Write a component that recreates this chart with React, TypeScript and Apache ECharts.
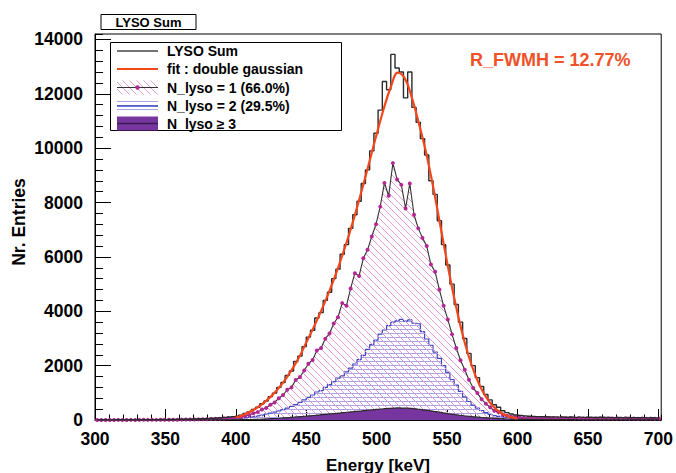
import React, { useEffect, useRef } from 'react';
import * as echarts from 'echarts';

// Histogram binning (keV)
const BIN_START = 300;
const BIN_WIDTH = 3;

// LYSO Sum (black step histogram), 134 bins of 3 keV from 300 to 702 keV
const sumCounts = [
  4, 2, 6, 3, 5, 8, 6, 7, 10, 6,
  9, 12, 10, 13, 12, 16, 15, 18, 20, 24,
  28, 30, 35, 40, 45, 50, 58, 65, 75, 85,
  95, 110, 125, 140, 180, 240, 300, 390, 470, 600,
  700, 860, 990, 1200, 1380, 1640, 1800, 2150, 2350, 2700,
  3050, 3300, 3750, 3950, 4400, 4700, 5200, 5550, 6100, 6450,
  7050, 7550, 8050, 8700, 9200, 9900, 10550, 11400, 12450, 12150,
  13450, 12950, 12800, 11850, 12800, 11500, 10950, 10350, 9750, 8800,
  8300, 7330, 6450, 5700, 5000, 4250, 3600, 3000, 2450, 2000,
  1560, 1230, 940, 740, 560, 470, 340, 270, 220, 185,
  165, 150, 140, 130, 125, 120, 118, 112, 115, 105,
  110, 100, 108, 98, 104, 95, 100, 97, 92, 99,
  90, 95, 88, 92, 86, 90, 84, 88, 82, 86,
  80, 84, 78, 82,
];

// N_lyso = 1 (polyline with markers, pink hatch)
const nLyso1 = [
  2, 1, 3, 1, 2, 4, 3, 3, 5, 3,
  4, 6, 4, 6, 5, 8, 7, 9, 10, 12,
  14, 15, 18, 21, 23, 27, 31, 36, 42, 48,
  55, 64, 72, 85, 110, 145, 180, 245, 290, 390,
  445, 560, 645, 800, 920, 1110, 1200, 1470, 1580, 1820,
  2070, 2210, 2560, 2650, 2990, 3180, 3550, 3780, 4300, 4200,
  4840, 5400, 5300, 5950, 6260, 6750, 7200, 7850, 8720, 8250,
  9450, 8850, 8650, 7780, 8700, 7550, 7050, 6700, 6400, 5720,
  5450, 4800, 4200, 3700, 3150, 2650, 2200, 1850, 1480, 1180,
  990, 760, 600, 470, 340, 290, 200, 160, 120, 100,
  88, 83, 80, 74, 72, 70, 68, 66, 65, 62,
  63, 60, 62, 58, 61, 56, 58, 57, 54, 58,
  54, 57, 52, 55, 51, 54, 50, 53, 49, 52,
  49, 51, 47, 50,
];

// N_lyso = 2 (blue step histogram, horizontal hatch)
const nLyso2 = [
  1, 0, 1, 1, 2, 1, 2, 2, 3, 2,
  3, 3, 4, 4, 5, 5, 6, 6, 7, 8,
  9, 10, 11, 12, 14, 15, 17, 19, 21, 24,
  27, 32, 38, 45, 60, 80, 100, 125, 150, 180,
  215, 250, 290, 335, 385, 440, 500, 570, 650, 740,
  830, 920, 1030, 1080, 1200, 1300, 1410, 1540, 1620, 1770,
  1910, 2060, 2220, 2380, 2600, 2770, 2940, 3160, 3310, 3470,
  3600, 3650, 3700, 3640, 3680, 3560, 3540, 3250, 2980, 2750,
  2500, 2270, 2000, 1750, 1490, 1280, 1050, 850, 680, 550,
  440, 350, 270, 210, 160, 130, 110, 90, 75, 62,
  52, 46, 42, 40, 38, 36, 35, 34, 33, 32,
  32, 31, 30, 31, 29, 30, 28, 29, 27, 28,
  27, 26, 27, 25, 26, 24, 25, 24, 23, 24,
  22, 23, 22, 21,
];

// N_lyso >= 3 (purple filled step histogram)
const nLyso3 = [
  0, 0, 0, 0, 0, 0, 0, 0, 0, 0,
  0, 0, 0, 0, 0, 0, 1, 0, 1, 1,
  1, 1, 1, 2, 2, 2, 3, 3, 4, 4,
  5, 6, 8, 10, 12, 15, 18, 22, 27, 32,
  40, 48, 56, 65, 75, 87, 100, 112, 125, 138,
  152, 165, 180, 195, 210, 225, 240, 255, 270, 285,
  300, 315, 330, 345, 360, 375, 390, 405, 420, 430,
  440, 445, 440, 435, 425, 410, 395, 375, 355, 330,
  305, 280, 255, 230, 205, 185, 165, 148, 132, 118,
  105, 92, 80, 68, 58, 50, 43, 37, 32, 28,
  25, 22, 20, 18, 17, 16, 15, 14, 13, 13,
  12, 12, 11, 11, 10, 10, 10, 9, 9, 9,
  8, 8, 8, 7, 7, 7, 6, 6, 6, 6,
  5, 5, 5, 5,
];

// Double gaussian fit curve
const fitEnergy = [
  400, 405, 410, 415, 420, 425, 430, 435, 440, 445,
  450, 455, 460, 465, 470, 475, 480, 485, 490, 495,
  500, 505, 510, 515, 520, 525, 530, 535, 540, 545,
  550, 555, 560, 565, 570, 575, 580, 585, 590, 595, 600,
];
const fitCounts = [
  90, 180, 300, 450, 640, 870, 1150, 1480, 1870, 2320,
  2850, 3380, 3950, 4560, 5230, 5960, 6760, 7630, 8560, 9540,
  10520, 11450, 12250, 12780, 12560, 11850, 10900, 9850, 8600, 7200,
  5800, 4500, 3350, 2400, 1650, 1080, 670, 390, 210, 110, 50,
];

const legendLabels = ['LYSO Sum', 'fit : double gaussian', 'N_lyso = 1 (66.0%)', 'N_lyso = 2 (29.5%)', 'N_lyso \u2265 3'];
const histTitle = 'LYSO Sum';
const resolutionText = 'R_FWMH = 12.77%';
const xTitle = 'Energy [keV]';
const yTitle = 'Nr. Entries';

const FONT = '"Liberation Sans", Arial, Helvetica, sans-serif';

function binPairs(values: number[]): [number, number][] {
  return values.map((v, i) => [BIN_START + BIN_WIDTH * (i + 0.5), v]);
}

function makeHatch(kind: 'diag' | 'horiz') {
  const c = document.createElement('canvas');
  if (kind === 'diag') {
    const s = 7;
    c.width = s;
    c.height = s;
    const ctx = c.getContext('2d')!;
    ctx.strokeStyle = '#e39ad0';
    ctx.lineWidth = 1;
    ctx.beginPath();
    for (const off of [-s, 0, s]) {
      ctx.moveTo(off - 1, -1);
      ctx.lineTo(off + s + 1, s + 1);
    }
    ctx.stroke();
  } else {
    c.width = 4;
    c.height = 4;
    const ctx = c.getContext('2d')!;
    ctx.fillStyle = '#a6a6e4';
    ctx.fillRect(0, 1, 4, 1);
  }
  return { image: c, repeat: 'repeat', imageWidth: c.width, imageHeight: c.height } as any;
}

export default function App() {
  const ref = useRef<HTMLDivElement>(null);

  useEffect(() => {
    if (!ref.current) return;
    const chart = echarts.init(ref.current, undefined, { renderer: 'svg' });
    const pink = makeHatch('diag');
    const blue = makeHatch('horiz');

    const txt = (x: number, y: number, text: string, size: number, opts: any = {}) => ({
      type: 'text',
      x,
      y,
      z: 100,
      rotation: opts.rotation || 0,
      style: {
        text,
        fill: opts.color || '#000',
        font: `bold ${size}px ${FONT}`,
        align: opts.align || 'left',
        verticalAlign: 'middle',
        textAlign: opts.align || 'left',
        textVerticalAlign: 'middle',
      },
    });

    const lx0 = 117;
    const lx1 = 158;
    const rows = [51, 69, 87.5, 106, 123.5];

    const graphic: any[] = [
      // title box
      { type: 'rect', z: 100, shape: { x: 101, y: 14.5, width: 95, height: 15 }, style: { fill: '#fff', stroke: '#000', lineWidth: 1 } },
      txt(148.5, 22.5, histTitle, 13, { align: 'center' }),
      // legend box
      { type: 'rect', z: 100, shape: { x: 110.5, y: 42.5, width: 231, height: 88 }, style: { fill: '#fff', stroke: '#000', lineWidth: 1 } },
      { type: 'line', z: 101, shape: { x1: lx0, y1: rows[0], x2: lx1, y2: rows[0] }, style: { stroke: '#444', lineWidth: 1.5 } },
      { type: 'line', z: 101, shape: { x1: lx0, y1: rows[1], x2: lx1, y2: rows[1] }, style: { stroke: '#f2471d', lineWidth: 2 } },
      { type: 'rect', z: 101, shape: { x: lx0, y: rows[2] - 7, width: lx1 - lx0, height: 14 }, style: { fill: pink } },
      { type: 'line', z: 102, shape: { x1: lx0, y1: rows[2], x2: lx1, y2: rows[2] }, style: { stroke: '#333', lineWidth: 1.2 } },
      { type: 'circle', z: 103, shape: { cx: (lx0 + lx1) / 2, cy: rows[2], r: 2.2 }, style: { fill: '#b32894' } },
      { type: 'rect', z: 101, shape: { x: lx0, y: rows[3] - 7, width: lx1 - lx0, height: 14 }, style: { fill: blue } },
      { type: 'line', z: 102, shape: { x1: lx0, y1: rows[3], x2: lx1, y2: rows[3] }, style: { stroke: '#3b48c0', lineWidth: 1.3 } },
      { type: 'rect', z: 101, shape: { x: lx0, y: rows[4] - 7, width: lx1 - lx0, height: 14 }, style: { fill: '#76359f' } },
      { type: 'line', z: 102, shape: { x1: lx0, y1: rows[4], x2: lx1, y2: rows[4] }, style: { stroke: '#3a1a50', lineWidth: 1.5 } },
      ...legendLabels.map((l, i) => txt(167, rows[i], l, 14)),
      // resolution text
      txt(470, 60, resolutionText, 18, { color: '#ef5128' }),
      // axis titles
      txt(18.5, 222, yTitle, 17.5, { align: 'center', rotation: Math.PI / 2 }),
      txt(378, 465, xTitle, 17, { align: 'center' }),
    ];

    const axisLabelStyle = {
      color: '#000', fontSize: 17.5, fontWeight: 'bold', fontFamily: FONT,
      formatter: (v: number) => String(v),
    };

    chart.setOption({
      animation: false,
      grid: { left: 95, right: 13, top: 34, bottom: 53, show: true, borderColor: '#000', borderWidth: 1, backgroundColor: 'transparent' },
      xAxis: [
        {
          type: 'value', min: 300, max: 702, interval: 50, position: 'bottom',
          axisLine: { show: true, onZero: false, lineStyle: { color: '#000', width: 1 } },
          axisTick: { show: true, inside: true, length: 11, lineStyle: { color: '#000', width: 1 } },
          axisLabel: { ...axisLabelStyle, margin: 10, showMaxLabel: false },
          splitLine: { show: false },
        },
        {
          type: 'value', min: 300, max: 702, interval: 10, position: 'bottom',
          axisLine: { show: false, onZero: false },
          axisTick: { show: true, inside: true, length: 5.5, lineStyle: { color: '#000', width: 1 } },
          axisLabel: { show: false },
          splitLine: { show: false },
        },
      ],
      yAxis: [
        {
          type: 'value', min: 0, max: 14200, interval: 2000, position: 'left',
          axisLine: { show: true, onZero: false, lineStyle: { color: '#000', width: 1 } },
          axisTick: { show: true, inside: true, length: 16, lineStyle: { color: '#000', width: 1 } },
          axisLabel: { ...axisLabelStyle, margin: 12, showMaxLabel: false },
          splitLine: { show: false },
        },
        {
          type: 'value', min: 0, max: 14200, interval: 400, position: 'left',
          axisLine: { show: false, onZero: false },
          axisTick: { show: true, inside: true, length: 8, lineStyle: { color: '#000', width: 1 } },
          axisLabel: { show: false },
          splitLine: { show: false },
        },
      ],
      series: [
        {
          type: 'line', name: legendLabels[3], data: binPairs(nLyso2), step: 'middle', symbol: 'none',
          lineStyle: { color: '#3b48c0', width: 1.2 }, areaStyle: { color: blue, opacity: 1 }, z: 2, silent: true,
        },
        {
          type: 'line', name: legendLabels[2], data: binPairs(nLyso1), symbol: 'circle', symbolSize: 4, showAllSymbol: true,
          itemStyle: { color: '#b32894' }, lineStyle: { color: '#333', width: 1.1 }, areaStyle: { color: pink, opacity: 1 }, z: 3, silent: true,
        },
        {
          type: 'line', name: legendLabels[4], data: binPairs(nLyso3), step: 'middle', symbol: 'none',
          lineStyle: { color: '#2a2a2a', width: 1.2 }, areaStyle: { color: '#76359f', opacity: 1 }, z: 4, silent: true,
        },
        {
          type: 'line', name: legendLabels[0], data: binPairs(sumCounts), step: 'middle', symbol: 'none',
          lineStyle: { color: '#2b2b2b', width: 1.4 }, z: 5, silent: true,
        },
        {
          type: 'line', name: legendLabels[1], data: fitEnergy.map((e, i) => [e, fitCounts[i]]), smooth: 0.4, symbol: 'none',
          lineStyle: { color: '#f2471d', width: 2.2 }, z: 6, silent: true,
        },
      ],
      graphic,
    });

    return () => chart.dispose();
  }, []);

  return (
    <div
      ref={ref}
      style={{ position: 'fixed', left: 0, top: 0, width: 676, height: 473, background: '#fff', overflow: 'hidden' }}
    />
  );
}
